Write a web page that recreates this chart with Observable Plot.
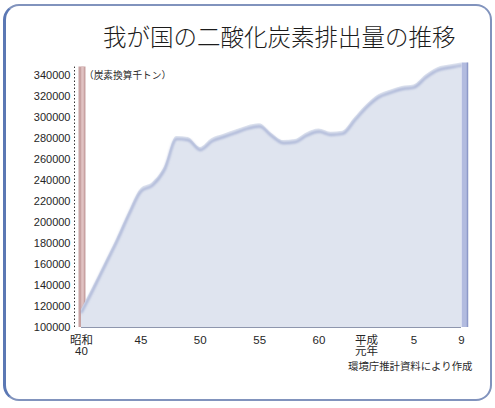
<!DOCTYPE html>
<html><head><meta charset="utf-8">
<script src="https://cdn.jsdelivr.net/npm/d3@7"></script>
<script src="https://cdn.jsdelivr.net/npm/@observablehq/plot@0.6"></script>
<style>
body{margin:0;background:#fff;font-family:"Liberation Sans","Noto Sans CJK JP",sans-serif;color:#262626}
#page{position:relative;width:495px;height:408px;overflow:hidden}
#frame{position:absolute;left:3px;top:4px;width:489px;height:397px;border:2px solid #8193bd;border-left:3px solid #5b78b4;border-radius:16px;box-sizing:border-box}
#title{position:absolute;left:103px;top:25px;font-family:"Noto Sans CJK JP",sans-serif;font-weight:300;font-size:23.5px;line-height:1;color:#1c1c1c;white-space:nowrap}
#chart{position:absolute;left:0;top:58px}
#unit{position:absolute;left:84px;top:71px;font-family:"Noto Sans CJK JP",sans-serif;font-size:9.7px;line-height:1;white-space:nowrap;color:#2a2a2a}
#source{position:absolute;left:348px;top:361px;font-family:"Noto Sans CJK JP",sans-serif;font-size:10.4px;line-height:1;white-space:nowrap;color:#2a2a2a}
</style>
</head><body>
<div id="page">
  <div id="frame"></div>
  <div id="title">我が国の二酸化炭素排出量の推移</div>
  <div id="chart"></div>
  <div id="unit">（炭素換算千トン）</div>
  <div id="source">環境庁推計資料により作成</div>
</div>
<script>
const years = [1965,1966,1967,1968,1969,1970,1971,1972,1973,1974,1975,1976,1977,1978,1979,1980,1981,1982,1983,1984,1985,1986,1987,1988,1989,1990,1991,1992,1993,1994,1995,1996,1997];
const emissions = [117000,139000,162000,185000,210000,232000,238000,253000,282000,281000,271500,280000,284000,288000,292000,294000,285000,278000,279000,285500,289000,286000,287000,299500,312000,321500,326000,329500,331000,340500,347500,350000,352000];
const yTickValues = [100000,120000,140000,160000,180000,200000,220000,240000,260000,280000,300000,320000,340000];
const xTickYears = [1965,1970,1975,1980,1985,1989,1993,1997];
const xTickLabels = ["昭和\n40","45","50","55","60","平成\n元年","5","9"];
const baseValue = 100000;
const wallTop = 348000;

const data = years.map((year, i) => ({year, value: emissions[i]}));
const last = data[data.length - 1];

const chart = Plot.plot({
  width: 495, height: 330,
  marginLeft: 81, marginRight: 34, marginTop: 17, marginBottom: 61,
  x: {type: "linear", domain: [1965, 1997], label: null},
  y: {domain: [100000, 340000], label: null},
  style: {fontFamily: '"Liberation Sans","Noto Sans CJK JP",sans-serif', fontSize: "11px", color: "#262626", background: "transparent", overflow: "visible"},
  marks: [
    Plot.ruleX([1965], {y1: baseValue, y2: wallTop, stroke: "#c8a2a2", strokeWidth: 7, dx: 0.5}),
    Plot.ruleX([1965], {y1: baseValue, y2: wallTop, stroke: "#e0c2c2", strokeWidth: 2.5, dx: 1}),
    Plot.ruleX([1965], {y1: baseValue, y2: wallTop, dx: -7, stroke: "#333", strokeDasharray: "1.5,2", strokeWidth: 1}),
    Plot.areaY(data, {x: "year", y1: baseValue, y2: "value", fill: "#dfe4ef", curve: "monotone-x"}),
    Plot.line(data, {x: "year", y: "value", stroke: "#7f8dc3", strokeWidth: 2.2, dy: 2.6, curve: "monotone-x", strokeOpacity: 0.6}),
    Plot.ruleX([last], {x: "year", y1: baseValue, y2: "value", stroke: "#b2bbdf", strokeWidth: 6, dx: 3}),
    Plot.ruleX([last], {x: "year", y1: baseValue, y2: "value", stroke: "#8d99c8", strokeWidth: 1.5, dx: 6}),
    Plot.ruleY([baseValue], {x1: 1965, x2: 1997, stroke: "#8e96ad", strokeWidth: 1.2}),
    Plot.axisY({ticks: yTickValues, tickSize: 0, tickPadding: 11, tickFormat: d => String(d), fontSize: 11}),
    Plot.axisX({ticks: xTickYears, tickSize: 0, tickPadding: 8, tickFormat: d => xTickLabels[xTickYears.indexOf(d)], fontSize: 11.5, lineHeight: 0.98})
  ]
});

const svg = d3.select(chart);
svg.insert("defs", ":first-child")
  .append("filter").attr("id", "soft").attr("x", "-5%").attr("y", "-20%").attr("width", "110%").attr("height", "140%")
  .append("feGaussianBlur").attr("stdDeviation", 0.8);
svg.select('g[aria-label="line"]').attr("filter", "url(#soft)");

document.getElementById("chart").appendChild(chart);
</script>
</body></html>
